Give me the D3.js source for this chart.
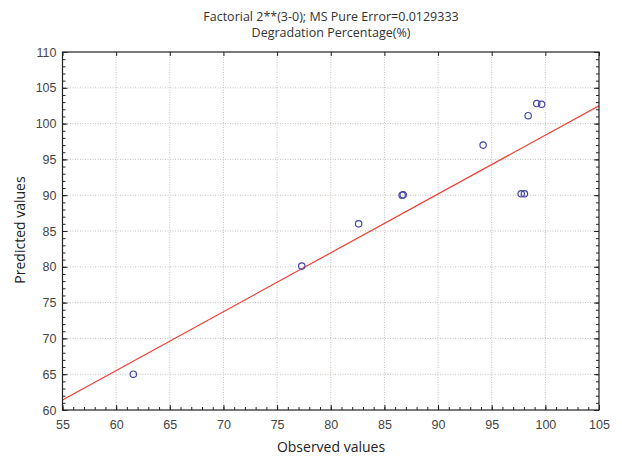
<!DOCTYPE html>
<html>
<head>
<meta charset="utf-8">
<script src="https://cdn.jsdelivr.net/npm/d3@7"></script>
<style>
  body { margin: 0; background: #fff; }
  svg { display: block; }
</style>
</head>
<body>
<div id="canvas"></div>
<script>
// observed vs predicted values
var observed = [61.6, 77.3, 82.6, 86.65, 86.75, 94.2, 97.75, 98.05, 98.4, 99.2, 99.65]
var predicted = [65.0, 80.1, 86.0, 90.0, 90.05, 97.0, 90.2, 90.2, 101.1, 102.8, 102.7]

// fitted line end points
var fitX = [55, 105]
var fitY = [61.4, 102.5]

var xTicks = [55, 60, 65, 70, 75, 80, 85, 90, 95, 100, 105]
var yTicks = [60, 65, 70, 75, 80, 85, 90, 95, 100, 105, 110]

var titleLines = ["Factorial 2**(3-0); MS Pure Error=0.0129333", "Degradation Percentage(%)"]

var width = 622
var height = 457
var margin = { left: 62.5, right: 23, top: 52, bottom: 47 }

var svg = d3.select("#canvas")
    .append("svg")
    .attr("width", width)
    .attr("height", height)

var xScale = d3.scaleLinear().domain([55, 105]).range([margin.left, width - margin.right])
var yScale = d3.scaleLinear().domain([60, 110]).range([height - margin.bottom, margin.top])

var x0 = xScale.range()[0], x1 = xScale.range()[1]
var y0 = yScale.range()[0], y1 = yScale.range()[1]

// grid
var grid = svg.append("g")
    .attr("stroke", "#c8bfb8")
    .attr("stroke-dasharray", "1,1.5")
    .attr("stroke-width", 1)

grid.selectAll(".vgrid")
    .data(xTicks.slice(1, -1))
    .enter().append("line")
    .attr("x1", function (d) { return xScale(d) })
    .attr("x2", function (d) { return xScale(d) })
    .attr("y1", y1)
    .attr("y2", y0)

grid.selectAll(".hgrid")
    .data(yTicks.slice(1, -1))
    .enter().append("line")
    .attr("x1", x0)
    .attr("x2", x1)
    .attr("y1", function (d) { return yScale(d) })
    .attr("y2", function (d) { return yScale(d) })

// fitted line
var clip = svg.append("clipPath").attr("id", "plot-clip")
    .append("rect")
    .attr("x", x0).attr("y", y1)
    .attr("width", x1 - x0).attr("height", y0 - y1)

svg.append("path")
    .datum(d3.zip(fitX, fitY))
    .attr("clip-path", "url(#plot-clip)")
    .attr("fill", "none")
    .attr("stroke", "#f03c32")
    .attr("stroke-width", 1.2)
    .attr("d", d3.line()
        .x(function (d) { return xScale(d[0]) })
        .y(function (d) { return yScale(d[1]) }))

// points
svg.selectAll(".pt")
    .data(d3.zip(observed, predicted))
    .enter().append("circle")
    .attr("class", "pt")
    .attr("cx", function (d) { return xScale(d[0]) })
    .attr("cy", function (d) { return yScale(d[1]) })
    .attr("r", 3.2)
    .attr("fill", "none")
    .attr("stroke", "#4646a8")
    .attr("stroke-width", 1.2)

// axes
var minorX = d3.range(55, 106, 1)
var minorY = d3.range(60, 111, 1)

function styleAxis(g) {
    g.select(".domain").remove()
    g.selectAll(".tick line").attr("stroke", "#222")
    g.selectAll(".tick text")
        .attr("fill", "#444")
        .style("font-family", "'Liberation Sans', Arial, sans-serif")
        .style("font-size", "12.5px")
}

// minor ticks (inside)
svg.append("g").attr("transform", `translate(0,${y0})`)
    .call(d3.axisBottom(xScale).tickValues(minorX).tickSize(-3).tickFormat(""))
    .call(styleAxis)
svg.append("g").attr("transform", `translate(${x0},0)`)
    .call(d3.axisLeft(yScale).tickValues(minorY).tickSize(-3).tickFormat(""))
    .call(styleAxis)
svg.append("g").attr("transform", `translate(${x1},0)`)
    .call(d3.axisRight(yScale).tickValues(minorY).tickSize(-3).tickFormat(""))
    .call(styleAxis)

// major ticks with labels
svg.append("g").attr("id", "x-axis").attr("transform", `translate(0,${y0})`)
    .call(d3.axisBottom(xScale).tickValues(xTicks).tickSize(-5).tickPadding(10))
    .call(styleAxis)
svg.append("g").attr("id", "y-axis").attr("transform", `translate(${x0},0)`)
    .call(d3.axisLeft(yScale).tickValues(yTicks).tickSize(-5).tickPadding(6))
    .call(styleAxis)
svg.append("g").attr("transform", `translate(${x1},0)`)
    .call(d3.axisRight(yScale).tickValues(yTicks).tickSize(-5).tickFormat(""))
    .call(styleAxis)
svg.append("g").attr("transform", `translate(0,${y1})`)
    .call(d3.axisTop(xScale).tickValues(xTicks).tickSize(-4).tickFormat(""))
    .call(styleAxis)

// frame
svg.append("rect")
    .attr("x", x0).attr("y", y1)
    .attr("width", x1 - x0).attr("height", y0 - y1)
    .attr("fill", "none")
    .attr("stroke", "#222")
    .attr("stroke-width", 1.2)

// titles
svg.selectAll(".title")
    .data(titleLines)
    .enter().append("text")
    .attr("class", "title")
    .attr("x", 331)
    .attr("y", function (d, i) { return 21 + i * 16 })
    .attr("text-anchor", "middle")
    .attr("fill", "#333")
    .style("font-family", "'Open Sans', sans-serif")
    .style("font-size", "12.5px")
    .text(function (d) { return d })

svg.append("text")
    .attr("x", 331)
    .attr("y", 452)
    .attr("text-anchor", "middle")
    .attr("fill", "#222")
    .style("font-family", "'Open Sans', sans-serif")
    .style("font-size", "14px")
    .text("Observed values")

svg.append("text")
    .attr("transform", "translate(25,230) rotate(-90)")
    .attr("text-anchor", "middle")
    .attr("fill", "#222")
    .style("font-family", "'Open Sans', sans-serif")
    .style("font-size", "14px")
    .text("Predicted values")
</script>
</body>
</html>
